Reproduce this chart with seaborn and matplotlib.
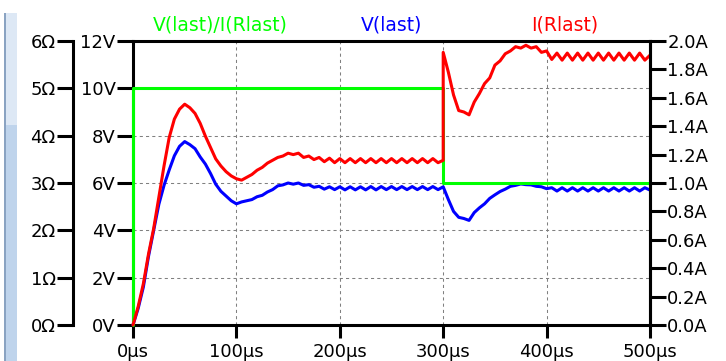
import numpy as np
import matplotlib
matplotlib.use("Agg")
import matplotlib.pyplot as plt
import seaborn as sns
from matplotlib.patches import Rectangle

sns.set_theme(style="white")
plt.rcParams["font.family"] = ["DejaVu Sans"]

# ---- transient simulation traces ----
# sample times (µs) for V(last)
time_us = np.arange(0, 505, 5)

# V(last) in volts
v_last = [
    0.0, 0.7, 1.6, 2.9, 4.0, 5.1, 5.9, 6.55, 7.15, 7.55,
    7.75, 7.62, 7.45, 7.1, 6.8, 6.4, 5.95, 5.65, 5.45, 5.25,
    5.12, 5.2, 5.25, 5.3, 5.42, 5.48, 5.62, 5.72, 5.88, 5.92,
    6.0, 5.95, 6.0, 5.9, 5.93, 5.82, 5.86, 5.74, 5.84, 5.72,
    5.84, 5.71, 5.84, 5.71, 5.84, 5.71, 5.85, 5.71, 5.85, 5.72,
    5.85, 5.72, 5.85, 5.72, 5.85, 5.72, 5.85, 5.72, 5.85, 5.72,
    5.84, 5.3, 4.8, 4.55, 4.5, 4.42, 4.75, 4.95, 5.12, 5.35,
    5.5, 5.64, 5.74, 5.86, 5.9, 5.96, 5.93, 5.92, 5.86, 5.84,
    5.76, 5.8, 5.66, 5.8, 5.66, 5.8, 5.66, 5.8, 5.66, 5.8,
    5.66, 5.8, 5.66, 5.8, 5.66, 5.8, 5.66, 5.8, 5.66, 5.8,
    5.7,
]

# sample times (µs) for I(Rlast); 300 µs appears twice for the load step
time_i_us = np.concatenate([np.arange(0, 305, 5), np.arange(300, 505, 5)])

# I(Rlast) in amps
i_rlast = [
    0.0, 0.13, 0.29, 0.5, 0.68, 0.9, 1.12, 1.32, 1.45, 1.52,
    1.555, 1.53, 1.49, 1.42, 1.33, 1.25, 1.17, 1.12, 1.08, 1.05,
    1.03, 1.02, 1.04, 1.06, 1.09, 1.11, 1.14, 1.16, 1.18, 1.19,
    1.21, 1.2, 1.21, 1.18, 1.19, 1.165, 1.18, 1.15, 1.175, 1.143,
    1.172, 1.143, 1.172, 1.143, 1.172, 1.143, 1.172, 1.143, 1.172, 1.143,
    1.172, 1.143, 1.172, 1.143, 1.172, 1.143, 1.172, 1.143, 1.172, 1.143,
    1.16,
    1.92, 1.78, 1.62, 1.51, 1.5, 1.48, 1.57, 1.63, 1.7, 1.74,
    1.83, 1.86, 1.91, 1.93, 1.96, 1.95, 1.97, 1.95, 1.96, 1.92,
    1.93, 1.87, 1.915, 1.865, 1.915, 1.865, 1.915, 1.865, 1.915, 1.865,
    1.915, 1.865, 1.915, 1.865, 1.915, 1.865, 1.915, 1.865, 1.915, 1.865,
    1.9,
]

# V(last)/I(Rlast) in ohms (step load)
time_r_us = [0, 0, 300, 300, 500]
r_last = [0, 5, 5, 3, 3]

v_ticks = [0, 2, 4, 6, 8, 10, 12]
r_ticks = [0, 1, 2, 3, 4, 5, 6]
i_ticks = [0.0, 0.2, 0.4, 0.6, 0.8, 1.0, 1.2, 1.4, 1.6, 1.8, 2.0]
t_ticks = [0, 100, 200, 300, 400, 500]

# ---- figure layout ----
W, H = 726, 361
fig = plt.figure(figsize=(W / 100, H / 100), dpi=100, facecolor="white")
ax_v = fig.add_axes([133 / W, 36 / H, 517 / W, 284 / H])
ax_r = ax_v.twinx()
ax_i = ax_v.twinx()
ax_v.set_zorder(1)
ax_r.set_zorder(2)
ax_i.set_zorder(3)
for a in (ax_v, ax_r, ax_i):
    a.patch.set_visible(False)

LW = 2.2
FS = 13

ax_v.grid(True, color="#808080", lw=0.75, linestyle=(0, (3, 3)))

sns.lineplot(x=time_us, y=v_last, ax=ax_v, color="#0000ff", lw=LW,
             estimator=None, sort=False, clip_on=False)
sns.lineplot(x=time_r_us, y=r_last, ax=ax_r, color="#00ff00", lw=LW,
             estimator=None, sort=False, clip_on=False, zorder=3)
sns.lineplot(x=time_i_us, y=i_rlast, ax=ax_i, color="#ff0000", lw=LW,
             estimator=None, sort=False, clip_on=False)

ax_v.set_xlim(0, 500)
ax_v.set_ylim(0, 12)
ax_r.set_ylim(0, 6)
ax_i.set_ylim(0, 2)
for a in (ax_v, ax_r, ax_i):
    a.set_xlabel("")
    a.set_ylabel("")

# voltage axis + frame
ax_v.set_xticks(t_ticks)
ax_v.set_xticklabels([f"{t}µs" for t in t_ticks])
ax_v.set_yticks(v_ticks)
ax_v.set_yticklabels([f"{v}V" for v in v_ticks])
for s in ("left", "bottom", "top", "right"):
    ax_v.spines[s].set_visible(True)
    ax_v.spines[s].set_color("black")
    ax_v.spines[s].set_linewidth(LW)
ax_v.tick_params(axis="y", which="major", left=True, right=False, direction="out",
                 length=11.5, width=LW, color="black", labelsize=FS, pad=1,
                 labelcolor="black")
ax_v.tick_params(axis="x", which="major", bottom=True, direction="out",
                 length=9, width=LW, color="black", labelsize=FS, pad=4,
                 labelcolor="black")

# resistance axis, offset to the left
ax_r.yaxis.set_ticks_position("left")
ax_r.yaxis.set_label_position("left")
for s in ("right", "top", "bottom"):
    ax_r.spines[s].set_visible(False)
ax_r.spines["left"].set_visible(True)
ax_r.spines["left"].set_position(("outward", 43.2))
ax_r.spines["left"].set_color("black")
ax_r.spines["left"].set_linewidth(LW)
ax_r.set_yticks(r_ticks)
ax_r.set_yticklabels([f"{r}Ω" for r in r_ticks])
ax_r.tick_params(axis="y", left=True, right=False, labelleft=True, labelright=False,
                 direction="out", length=11.5, width=LW, color="black",
                 labelsize=FS, pad=1, labelcolor="black")

# current axis on the right
for s in ("left", "top", "bottom"):
    ax_i.spines[s].set_visible(False)
ax_i.spines["right"].set_visible(True)
ax_i.spines["right"].set_color("black")
ax_i.spines["right"].set_linewidth(LW)
ax_i.set_yticks(i_ticks)
ax_i.set_yticklabels([f"{a:.1f}A" for a in i_ticks])
ax_i.tick_params(axis="y", right=True, left=False, direction="out", length=11.5,
                 width=LW, color="black", labelsize=FS, pad=1, labelcolor="black")

# trace names
fig.text(220 / W, 1 - 25 / H, "V(last)/I(Rlast)", color="#00ff00", fontsize=13.5,
         ha="center", va="center")
fig.text(392 / W, 1 - 25 / H, "V(last)", color="#0000ff", fontsize=13.5,
         ha="center", va="center")
fig.text(565 / W, 1 - 25 / H, "I(Rlast)", color="#ff0000", fontsize=13.5,
         ha="center", va="center")

# window frame strip at the left edge
fig.add_artist(Rectangle((4 / W, 0), 13 / W, (H - 125) / H, transform=fig.transFigure,
                         facecolor="#bfd4ec", edgecolor="none"))
fig.add_artist(Rectangle((4 / W, (H - 125) / H), 13 / W, 112 / H, transform=fig.transFigure,
                         facecolor="#dde8f5", edgecolor="none"))
fig.add_artist(Rectangle((4 / W, 0), 1.5 / W, (H - 13) / H, transform=fig.transFigure,
                         facecolor="#8aa3c2", edgecolor="none"))

fig.savefig("out.png", dpi=100, facecolor="white")
